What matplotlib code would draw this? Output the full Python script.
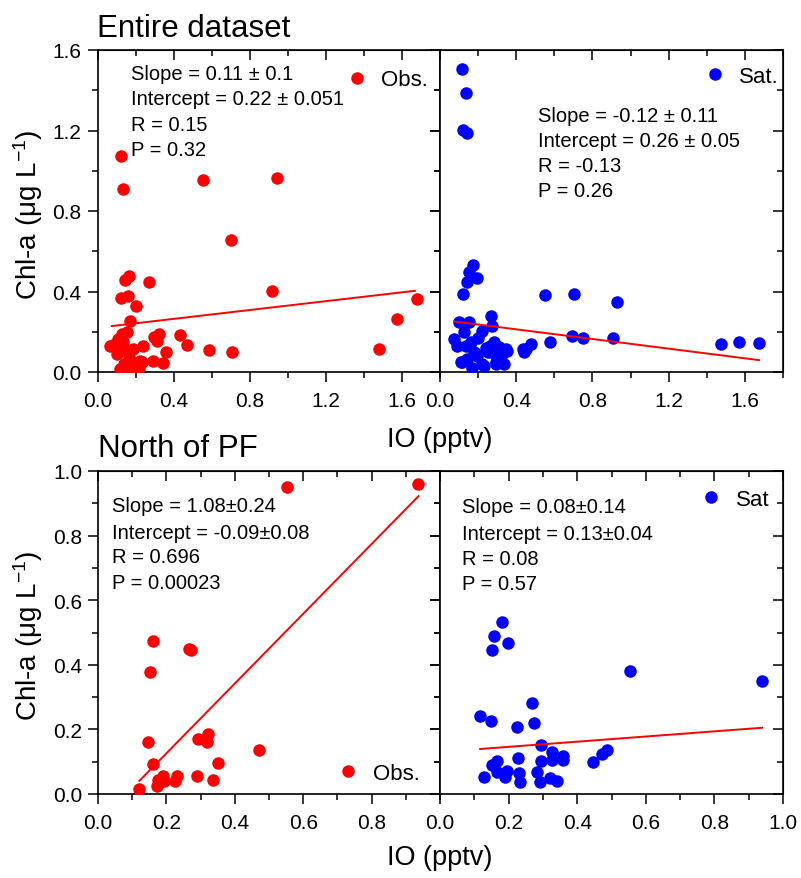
import numpy as np
import matplotlib
matplotlib.use('Agg')
import matplotlib.pyplot as plt
from matplotlib.ticker import MultipleLocator, FormatStrFormatter

plt.rcParams['font.family'] = ['Liberation Sans', 'DejaVu Sans']
plt.rcParams['mathtext.fontset'] = 'custom'
plt.rcParams['mathtext.rm'] = 'Liberation Sans'
plt.rcParams['mathtext.it'] = 'Liberation Sans:italic'

# ---- data ----
# entire dataset, observed Chl-a
all_obs_x = [0.122, 0.136, 0.556, 0.942, 0.700, 0.164, 0.145, 0.272, 0.122, 0.160,
             0.915, 0.202, 1.677, 0.171, 1.576, 1.481, 0.584, 0.707, 0.434, 0.472,
             0.325, 0.297, 0.360, 0.237, 0.083, 0.127, 0.153, 0.109, 0.136, 0.188,
             0.164, 0.223, 0.293, 0.343, 0.118, 0.180, 0.066, 0.136, 0.311, 0.188,
             0.232, 0.162, 0.220, 0.140, 0.100]
all_obs_y = [1.072, 0.909, 0.956, 0.962, 0.654, 0.475, 0.456, 0.449, 0.369, 0.379,
             0.402, 0.326, 0.363, 0.255, 0.263, 0.114, 0.111, 0.101, 0.184, 0.136,
             0.187, 0.172, 0.098, 0.131, 0.134, 0.189, 0.197, 0.164, 0.113, 0.114,
             0.074, 0.056, 0.056, 0.045, 0.015, 0.025, 0.131, 0.148, 0.156, 0.048,
             0.048, 0.015, 0.020, 0.040, 0.090]

# entire dataset, satellite Chl-a
all_sat_x = [0.117, 0.135, 0.123, 0.144, 0.175, 0.153, 0.196, 0.144, 0.123, 0.551,
             0.702, 0.930, 0.267, 0.693, 0.749, 0.910, 1.477, 1.568, 1.674, 0.579,
             0.477, 0.433, 0.440, 0.074, 0.100, 0.153, 0.275, 0.222, 0.128, 0.091,
             0.161, 0.117, 0.196, 0.231, 0.284, 0.310, 0.354, 0.337, 0.295, 0.180,
             0.250, 0.140, 0.260, 0.109, 0.223, 0.293, 0.451, 0.345, 0.135, 0.188,
             0.267, 0.200, 0.240, 0.170, 0.320]
all_sat_y = [1.506, 1.385, 1.202, 1.190, 0.533, 0.495, 0.465, 0.446, 0.388, 0.383,
             0.388, 0.349, 0.280, 0.177, 0.167, 0.167, 0.139, 0.151, 0.144, 0.148,
             0.139, 0.114, 0.098, 0.164, 0.247, 0.247, 0.230, 0.205, 0.197, 0.131,
             0.148, 0.051, 0.081, 0.031, 0.148, 0.124, 0.106, 0.040, 0.048, 0.098,
             0.098, 0.065, 0.130, 0.051, 0.040, 0.040, 0.114, 0.114, 0.131, 0.089,
             0.098, 0.170, 0.120, 0.020, 0.080]

# north of PF, observed
npf_obs_x = [0.552, 0.937, 0.160, 0.152, 0.267, 0.273, 0.147, 0.293, 0.323, 0.318,
             0.471, 0.352, 0.162, 0.121, 0.172, 0.176, 0.191, 0.193, 0.225, 0.232,
             0.289, 0.337]
npf_obs_y = [0.952, 0.960, 0.475, 0.379, 0.449, 0.447, 0.160, 0.170, 0.186, 0.162,
             0.136, 0.096, 0.093, 0.015, 0.026, 0.044, 0.055, 0.040, 0.041, 0.055,
             0.055, 0.044]

# north of PF, satellite
npf_sat_x = [0.180, 0.156, 0.198, 0.153, 0.553, 0.939, 0.268, 0.117, 0.149, 0.273,
             0.224, 0.295, 0.227, 0.487, 0.473, 0.445, 0.359, 0.359, 0.327, 0.327,
             0.295, 0.166, 0.151, 0.195, 0.166, 0.127, 0.190, 0.229, 0.234, 0.283,
             0.292, 0.322, 0.341]
npf_sat_y = [0.531, 0.490, 0.466, 0.446, 0.381, 0.350, 0.281, 0.242, 0.227, 0.220,
             0.206, 0.153, 0.111, 0.136, 0.124, 0.100, 0.119, 0.104, 0.129, 0.104,
             0.103, 0.103, 0.090, 0.072, 0.067, 0.052, 0.052, 0.065, 0.038, 0.067,
             0.036, 0.049, 0.039]

# linear fits (slope, intercept, x range of line)
fits = [(0.11, 0.22, 0.075, 1.668),
        (-0.12, 0.26, 0.074, 1.674),
        (1.08, -0.09, 0.121, 0.937),
        (0.08, 0.13, 0.117, 0.939)]

stats_text = [
    ['Slope = 0.11 ± 0.1', 'Intercept = 0.22 ± 0.051', 'R = 0.15', 'P = 0.32'],
    ['Slope = -0.12 ± 0.11', 'Intercept = 0.26 ± 0.05', 'R = -0.13', 'P = 0.26'],
    ['Slope = 1.08±0.24', 'Intercept = -0.09±0.08', 'R = 0.696', 'P = 0.00023'],
    ['Slope = 0.08±0.14', 'Intercept = 0.13±0.04', 'R = 0.08', 'P = 0.57'],
]
legend_labels = ['Obs.', 'Sat.', 'Obs.', 'Sat']

W, H = 801, 879
fig = plt.figure(figsize=(W / 100, H / 100), dpi=100)

def px_axes(x0, y0, x1, y1):
    return fig.add_axes([x0 / W, 1 - y1 / H, (x1 - x0) / W, (y1 - y0) / H])

ax_tl = px_axes(97.5, 51, 440, 373)
ax_tr = px_axes(440, 51, 783, 373)
ax_bl = px_axes(98, 472, 440, 795)
ax_br = px_axes(440, 472, 783, 795)
axes = [ax_tl, ax_tr, ax_bl, ax_br]

series = [(all_obs_x, all_obs_y, 'red'), (all_sat_x, all_sat_y, 'blue'),
          (npf_obs_x, npf_obs_y, 'red'), (npf_sat_x, npf_sat_y, 'blue')]

# text positions (axes coords): stats left x, baselines; legend anchor
text_pos = [(0.097, [0.910, 0.832, 0.753, 0.675]),
            (0.287, [0.780, 0.701, 0.625, 0.548]),
            (0.040, [0.877, 0.793, 0.717, 0.638]),
            (0.063, [0.872, 0.789, 0.712, 0.635])]
legend_pos = [(0.965, 0.907), (0.988, 0.919), (0.940, 0.065), (0.960, 0.911)]

for i, ax in enumerate(axes):
    x, y, c = series[i]
    ax.plot(x, y, 'o', color=c, ms=9, mew=0, ls='', label=legend_labels[i], zorder=3)
    s, b, x0, x1 = fits[i]
    xl = np.array([x0, x1])
    ax.plot(xl, s * xl + b, color='red', lw=1.4, zorder=4)

    tx, tys = text_pos[i]
    for line, ty in zip(stats_text[i], tys):
        ax.text(tx, ty, line, transform=ax.transAxes, fontsize=14.5, va='baseline', ha='left')

    ax.legend(loc='center right', bbox_to_anchor=legend_pos[i], frameon=False,
              fontsize=16, borderpad=0, borderaxespad=0, handlelength=0.8,
              handletextpad=0.7, markerscale=1.0)

    top = i < 2
    ax.set_xlim(0, 1.8 if top else 1.0)
    ax.set_ylim(0, 1.6 if top else 1.0)
    maj = 0.4 if top else 0.2
    mnr = 0.2 if top else 0.1
    ax.xaxis.set_major_locator(MultipleLocator(maj))
    ax.xaxis.set_minor_locator(MultipleLocator(mnr))
    ax.yaxis.set_major_locator(MultipleLocator(maj))
    ax.yaxis.set_minor_locator(MultipleLocator(mnr))
    ax.xaxis.set_major_formatter(FormatStrFormatter('%.1f'))
    ax.yaxis.set_major_formatter(FormatStrFormatter('%.1f'))
    if i == 2:
        ax.set_xticks([0.0, 0.2, 0.4, 0.6, 0.8])
        ax.xaxis.set_minor_locator(MultipleLocator(0.1))

    ax.tick_params(which='both', direction='out', labelsize=15, width=1.1,
                   top=False, right=False)
    ax.tick_params(which='major', length=7)
    ax.tick_params(which='minor', length=4)
    ax.tick_params(axis='x', pad=6.5)
    ax.tick_params(axis='y', pad=4.5)
    if i % 2 == 1:
        ax.tick_params(axis='y', labelleft=False)
    for sp in ax.spines.values():
        sp.set_linewidth(1.2)

    # inward ticks on the top and right spines
    sx = ax.secondary_xaxis('top')
    sx.xaxis.set_major_locator(MultipleLocator(maj))
    sx.xaxis.set_minor_locator(MultipleLocator(mnr))
    sx.tick_params(which='both', direction='in', labeltop=False, width=1.1)
    sx.tick_params(which='major', length=7)
    sx.tick_params(which='minor', length=4)
    sy = ax.secondary_yaxis('right')
    sy.yaxis.set_major_locator(MultipleLocator(maj))
    sy.yaxis.set_minor_locator(MultipleLocator(mnr))
    sy.tick_params(which='both', direction='in', labelright=False, width=1.1)
    sy.tick_params(which='major', length=7)
    sy.tick_params(which='minor', length=4)

fig.text(97 / W, 1 - 37 / H, 'Entire dataset', fontsize=22.5, ha='left', va='baseline')
fig.text(98 / W, 1 - 457 / H, 'North of PF', fontsize=22.5, ha='left', va='baseline')

fig.text(440 / W, 1 - 440 / H, 'IO (pptv)', fontsize=19.5, ha='center', va='center')
fig.text(440 / W, 1 - 858 / H, 'IO (pptv)', fontsize=19.5, ha='center', va='center')
fig.text(28 / W, 1 - 215 / H, 'Chl-a (μg L$^{-1}$)', fontsize=20, rotation=90,
         ha='center', va='center')
fig.text(28 / W, 1 - 636 / H, 'Chl-a (μg L$^{-1}$)', fontsize=20, rotation=90,
         ha='center', va='center')

fig.savefig('out.png', dpi=100)
